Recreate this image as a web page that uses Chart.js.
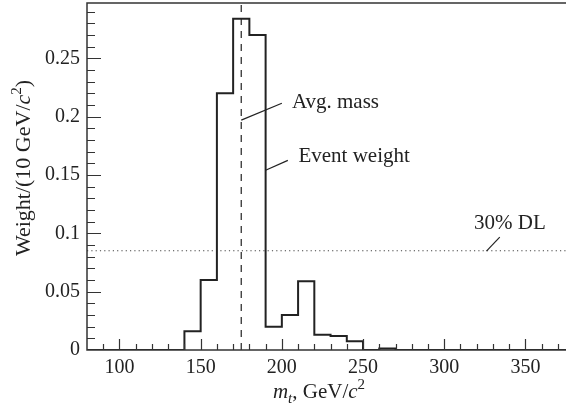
<!DOCTYPE html>
<html lang="en">
<head>
  <meta charset="UTF-8">
  <title>Top mass event weight</title>
  <script src="https://cdn.jsdelivr.net/npm/chart.js"></script>
  <style>
    html, body { margin: 0; padding: 0; background: #fff; }
    #wrap { width: 566px; height: 408px; position: relative; }
  </style>
</head>
<body>
  <div id="wrap"><canvas id="massChart"></canvas></div>

  <script>
    // histogram bins: lower edge of each 10 GeV bin and its weight
    const binStart = [80, 90, 100, 110, 120, 130, 140, 150, 160, 170, 180, 190, 200, 210, 220,
                      230, 240, 250, 260, 270, 280, 290, 300, 310, 320, 330, 340, 350, 360, 370];
    const weights  = [0, 0, 0, 0, 0, 0, 0.016, 0.06, 0.22, 0.284, 0.27, 0.02, 0.03, 0.059, 0.013,
                      0.012, 0.0075, 0, 0.0012, 0, 0, 0, 0, 0, 0, 0, 0, 0, 0, 0];
    const binWidth = 10;
    const avgMass = 175;
    const dlLevel = 0.085;
    const xTickLabels = [100, 150, 200, 250, 300, 350];
    const yTickLabels = [0, 0.05, 0.1, 0.15, 0.2, 0.25];

    const FONT = '"Liberation Serif", "Times New Roman", serif';
    const INK = '#222';

    const histPoints = binStart.map((x, i) => ({ x: x, y: weights[i] }));
    histPoints.push({ x: binStart[binStart.length - 1] + binWidth, y: 0 });

    // draws frame, inward ticks, axis titles and the labelled leader lines
    const decor = {
      id: 'decor',
      afterDatasetsDraw(chart) {
        const { ctx, chartArea: a, scales: { x, y } } = chart;
        ctx.save();
        ctx.strokeStyle = '#333';
        ctx.lineWidth = 1.5;
        ctx.beginPath();
        ctx.moveTo(a.right, a.top);
        ctx.lineTo(a.left, a.top);
        ctx.lineTo(a.left, a.bottom);
        ctx.lineTo(a.right, a.bottom);
        ctx.stroke();

        ctx.lineWidth = 1.2;
        ctx.beginPath();
        for (let i = 1; i <= 29; i++) {
          const py = Math.round(y.getPixelForValue(i / 100)) + 0.5;
          const len = i % 5 === 0 ? 14 : 8;
          ctx.moveTo(a.left, py);
          ctx.lineTo(a.left + len, py);
        }
        for (let v = 90; v <= 370; v += 10) {
          const px = Math.round(x.getPixelForValue(v)) + 0.5;
          const len = v % 50 === 0 ? 11 : 6;
          ctx.moveTo(px, a.bottom);
          ctx.lineTo(px, a.bottom - len);
        }
        ctx.stroke();

        // leader lines
        ctx.lineWidth = 1.2;
        ctx.strokeStyle = INK;
        const lead = (x0, y0, x1, y1) => {
          ctx.beginPath();
          ctx.moveTo(x.getPixelForValue(x0), y.getPixelForValue(y0));
          ctx.lineTo(x.getPixelForValue(x1), y.getPixelForValue(y1));
          ctx.stroke();
        };
        lead(175, 0.197, 200, 0.2115);
        lead(190, 0.154, 203.7, 0.1625);
        lead(326, 0.0848, 334.2, 0.0967);

        ctx.fillStyle = INK;
        ctx.font = '21px ' + FONT;
        ctx.textBaseline = 'alphabetic';
        ctx.fillText('Avg. mass', x.getPixelForValue(206.2), y.getPixelForValue(0.207));
        ctx.fillText('Event weight', x.getPixelForValue(210.2), y.getPixelForValue(0.161));
        ctx.fillText('30% DL', x.getPixelForValue(318.4), y.getPixelForValue(0.1035));

        // rich text helper: parts of [text, style]
        const runs = (parts, base) => parts.map(([t, st]) => {
          const size = st.includes('sup') || st.includes('sub') ? Math.round(base * 0.7) : base;
          const f = (st.includes('i') ? 'italic ' : '') + size + 'px ' + FONT;
          ctx.font = f;
          return { t, f, w: ctx.measureText(t).width, dy: st.includes('sup') ? -9 : st.includes('sub') ? 5 : 0 };
        });
        const drawRuns = (rs, cx, cy) => {
          const total = rs.reduce((s, r) => s + r.w, 0);
          let cur = cx - total / 2;
          rs.forEach(r => {
            ctx.font = r.f;
            ctx.fillText(r.t, cur, cy + r.dy);
            cur += r.w;
          });
        };

        // x title
        drawRuns(runs([['m', 'i'], ['t', 'i sub'], [', GeV/', ''], ['c', 'i'], ['2', 'sup']], 21), 319, 398);

        // y title
        ctx.save();
        ctx.translate(30, 168);
        ctx.rotate(-Math.PI / 2);
        drawRuns(runs([['Weight/(10 GeV/', ''], ['c', 'i'], ['2', 'sup'], [')', '']], 22), 0, 0);
        ctx.restore();

        ctx.restore();
      }
    };

    const ctx = document.getElementById('massChart').getContext('2d');
    new Chart(ctx, {
      type: 'line',
      data: {
        datasets: [
          {
            label: 'Event weight',
            data: histPoints,
            stepped: true,
            borderColor: INK,
            borderWidth: 2,
            pointRadius: 0,
            fill: false
          },
          {
            label: 'Avg. mass',
            data: [{ x: avgMass, y: 0 }, { x: avgMass, y: 0.3 }],
            borderColor: '#333',
            borderWidth: 1.3,
            borderDash: [7, 6],
            pointRadius: 0
          },
          {
            label: '30% DL',
            data: [{ x: 80, y: dlLevel }, { x: 375, y: dlLevel }],
            borderColor: '#444',
            borderWidth: 1.1,
            borderDash: [1.2, 3.1],
            pointRadius: 0
          }
        ]
      },
      options: {
        responsive: true,
        maintainAspectRatio: false,
        animation: false,
        layout: { padding: { top: 3, right: 0, left: 0, bottom: 0 } },
        plugins: { legend: { display: false }, tooltip: { enabled: false } },
        scales: {
          x: {
            type: 'linear',
            min: 80,
            max: 375,
            grid: { display: false, drawTicks: false },
            border: { display: false },
            afterBuildTicks: s => { s.ticks = xTickLabels.map(v => ({ value: v })); },
            afterFit: s => { s.height = 58; s.paddingLeft = 0; s.paddingRight = 0; },
            ticks: {
              padding: 6,
              color: INK,
              maxRotation: 0,
              font: { family: FONT, size: 20 },
              callback: v => String(v)
            }
          },
          y: {
            type: 'linear',
            min: 0,
            max: 0.2974,
            grid: { display: false, drawTicks: false },
            border: { display: false },
            afterBuildTicks: s => { s.ticks = yTickLabels.map(v => ({ value: v })); },
            afterFit: s => { s.width = 87; s.paddingTop = 0; s.paddingBottom = 0; },
            ticks: {
              padding: 7,
              color: INK,
              font: { family: FONT, size: 20 },
              callback: v => String(+v.toFixed(2))
            }
          }
        }
      },
      plugins: [decor]
    });
  </script>
</body>
</html>
